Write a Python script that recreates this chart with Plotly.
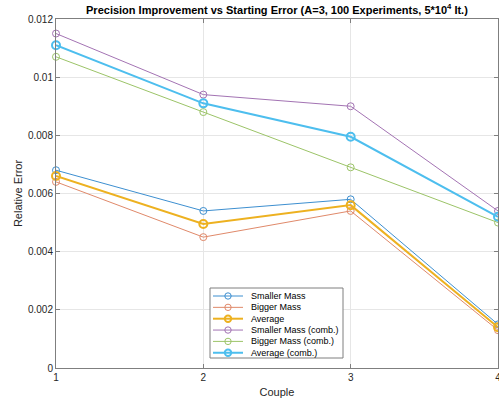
import plotly.graph_objects as go

# Couple index on the x axis
couples = [1, 2, 3, 4]

# Relative error per couple for each series
smaller_mass = [0.0068, 0.0054, 0.0058, 0.0015]
bigger_mass = [0.0064, 0.0045, 0.0054, 0.0013]
average = [0.0066, 0.00495, 0.0056, 0.0014]
smaller_mass_comb = [0.0115, 0.0094, 0.0090, 0.0054]
bigger_mass_comb = [0.0107, 0.0088, 0.0069, 0.0050]
average_comb = [0.0111, 0.0091, 0.00795, 0.0052]

y_ticks = [0, 0.002, 0.004, 0.006, 0.008, 0.01, 0.012]
y_tick_text = ["0", "0.002", "0.004", "0.006", "0.008", "0.01", "0.012"]
x_ticks = [1, 2, 3, 4]

series = [
    ("Smaller Mass", smaller_mass, "#3d8fd0", 1, 7),
    ("Bigger Mass", bigger_mass, "#e0896a", 1, 7),
    ("Average", average, "#edb120", 2, 8),
    ("Smaller Mass (comb.)", smaller_mass_comb, "#a373b3", 1, 7),
    ("Bigger Mass (comb.)", bigger_mass_comb, "#9cc468", 1, 7),
    ("Average (comb.)", average_comb, "#4dbeee", 2, 8),
]

W, H = 499, 400
M = dict(l=56, r=1, t=19, b=32)
PW = W - M["l"] - M["r"]
PH = H - M["t"] - M["b"]


def px_to_paper(px, py):
    """Convert a pixel position on the page into paper coordinates."""
    return (px - M["l"]) / PW, (H - M["b"] - py) / PH


fig = go.Figure()
for name, vals, color, width, msize in series:
    fig.add_trace(go.Scatter(
        x=couples, y=vals, name=name, mode="lines+markers",
        line=dict(color=color, width=width),
        marker=dict(symbol="circle-open", size=msize, color=color,
                    line=dict(width=width, color=color)),
        cliponaxis=False, showlegend=False,
    ))

# Compact boxed legend in the lower middle of the axes
shapes = []
annotations = []
bx0, by0 = px_to_paper(210, 288)
bx1, by1 = px_to_paper(343, 358)
shapes.append(dict(type="rect", xref="paper", yref="paper",
                   x0=bx0, x1=bx1, y0=by1, y1=by0,
                   line=dict(color="#7f7f7f", width=1), fillcolor="white",
                   layer="above"))
row_y0, row_step = 296, 11.35
for i, (name, vals, color, width, msize) in enumerate(series):
    ry = row_y0 + i * row_step
    lx0, ly = px_to_paper(213, ry)
    lx1, _ = px_to_paper(243, ry)
    cx, _ = px_to_paper(228, ry)
    tx, _ = px_to_paper(249, ry)
    shapes.append(dict(type="line", xref="paper", yref="paper",
                       x0=lx0, x1=lx1, y0=ly, y1=ly,
                       line=dict(color=color, width=width), layer="above"))
    r = 3.2
    shapes.append(dict(type="circle", xref="paper", yref="paper",
                       xsizemode="pixel", ysizemode="pixel",
                       xanchor=cx, yanchor=ly,
                       x0=-r, x1=r, y0=-r, y1=r,
                       line=dict(color=color, width=width),
                       fillcolor="rgba(0,0,0,0)", layer="above"))
    annotations.append(dict(text=name, xref="paper", yref="paper",
                            x=tx, y=ly, xanchor="left", yanchor="middle",
                            showarrow=False,
                            font=dict(size=9, color="#000000")))

font_family = "Liberation Sans, Arial, sans-serif"

fig.update_layout(
    width=W, height=H,
    margin=M,
    paper_bgcolor="white", plot_bgcolor="white",
    font=dict(family=font_family, size=10, color="#262626"),
    title=dict(
        text="<b>Precision Improvement vs Starting Error (A=3, 100 Experiments, 5*10<sup>4</sup> It.)</b>",
        x=0.555, xanchor="center", y=0.985, yanchor="top",
        font=dict(size=11, color="#000000"),
    ),
    showlegend=False,
    shapes=shapes,
    annotations=annotations,
)

fig.update_xaxes(
    range=[1, 4], tickvals=x_ticks, ticktext=[str(v) for v in x_ticks],
    ticklabeloverflow="allow", automargin=False,
    showgrid=True, gridcolor="#e6e6e6", gridwidth=1,
    showline=True, linecolor="#7f7f7f", linewidth=1, mirror="ticks",
    ticks="inside", ticklen=4, tickcolor="#7f7f7f",
    zeroline=False,
    title=dict(text="Couple", font=dict(size=11), standoff=6),
    tickfont=dict(size=10),
)
fig.update_yaxes(
    range=[0, 0.012], tickvals=y_ticks, ticktext=y_tick_text,
    showgrid=True, gridcolor="#e6e6e6", gridwidth=1,
    showline=True, linecolor="#7f7f7f", linewidth=1, mirror="ticks",
    ticks="inside", ticklen=4, tickcolor="#7f7f7f",
    zeroline=False,
    title=dict(text="Relative Error", font=dict(size=11), standoff=3),
    tickfont=dict(size=10),
)

fig.write_html("out.html")
